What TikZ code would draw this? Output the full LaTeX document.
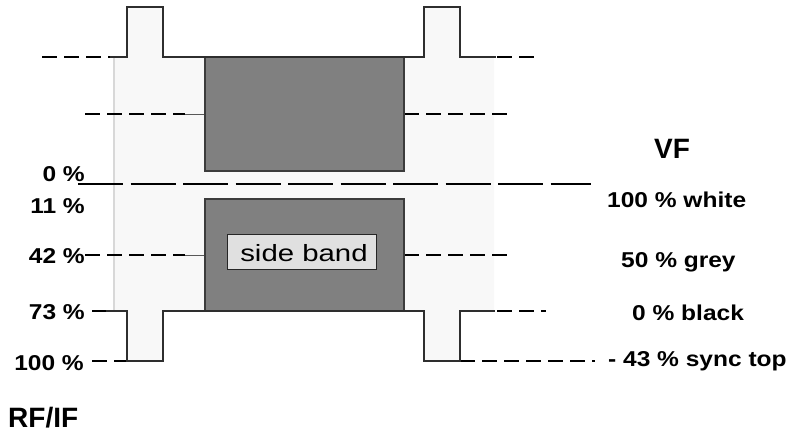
\documentclass[tikz,border=0pt]{standalone}
\usepackage{fontspec}
\setmainfont{Liberation Sans}
\newfontfamily\lblfont{Liberation Sans}[FakeStretch=1.14]
\newfontfamily\bandfont{Liberation Sans}[FakeStretch=1.25]

\definecolor{areagrey}{HTML}{F8F8F8}
\definecolor{edgegrey}{HTML}{D8D8D8}
\definecolor{bandgrey}{HTML}{808080}
\definecolor{bandedge}{HTML}{3C3C3C}
\definecolor{wavecol}{HTML}{2E2E2E}
\definecolor{sbfill}{HTML}{E0E0E0}

\tikzset{
  lvl/.style   = {font=\lblfont\bfseries\fontsize{21.5}{24}\selectfont, inner sep=0pt},
  head/.style  = {font=\bfseries\fontsize{28}{32}\selectfont, inner sep=0pt},
  dline/.style = {black, line width=1.1pt, dash pattern=on 15pt off 7pt},
  lline/.style = {black, line width=1.1pt, dash pattern=on 45pt off 7.5pt},
  wave/.style  = {draw=wavecol, line width=1.3pt, line join=miter},
  band/.style  = {draw=bandedge, fill=bandgrey, line width=1.3pt},
  sbbox/.style = {draw=black!85, fill=sbfill, line width=1pt, inner sep=0pt,
                  minimum width=149pt, minimum height=35pt},
  sbtext/.style= {font=\bandfont\fontsize{23.5}{26}\selectfont, inner sep=0pt},
  stub/.style  = {draw=wavecol!80, line width=1pt}
}

\begin{document}
\begin{tikzpicture}[x=1pt,y=-1pt]
\useasboundingbox (0,0) rectangle (793,432);

% light envelope of the signal, pulses included
\fill[areagrey] (114,57) -- (127,57) -- (127,7) -- (163,7) -- (163,57)
  -- (424,57) -- (424,7) -- (460,7) -- (460,57) -- (494,57)
  -- (494,311) -- (460,311) -- (460,361) -- (424,361) -- (424,311)
  -- (163,311) -- (163,361) -- (127,361) -- (127,311) -- (114,311) -- cycle;
\draw[edgegrey, line width=1.3pt] (114,57) -- (114,311);

% level marks
\coordinate (t0l) at (42,57);   \coordinate (t0r) at (110,57);
\coordinate (t1l) at (497,57);  \coordinate (t1r) at (539,57);
\draw[dline] (t0l) -- (t0r);
\draw[dline] (t1l) -- (t1r);

\coordinate (u0) at (85,114);  \coordinate (u1) at (185,114);
\coordinate (u2) at (205,114); \coordinate (u3) at (404,114); \coordinate (u4) at (508,114);
\draw[dline] (u0) -- (u1);
\draw[stub] (u1) -- (u2);
\draw[dline] (u3) -- (u4);

\coordinate (z0) at (78,184); \coordinate (z1) at (591,184);
\draw[lline] (z0) -- (z1);

\coordinate (m0) at (85,255);  \coordinate (m1) at (185,255);
\coordinate (m2) at (205,255); \coordinate (m3) at (404,255); \coordinate (m4) at (508,255);
\draw[dline] (m0) -- (m1);
\draw[stub] (m1) -- (m2);
\draw[dline] (m3) -- (m4);

\coordinate (b0) at (92,311);  \coordinate (b1) at (106,311);
\coordinate (b2) at (497,311); \coordinate (b3) at (546,311);
\draw[dline] (b0) -- (b1);
\draw[dline] (b2) -- (b3);

\coordinate (s0) at (92,361);  \coordinate (s1) at (127,361);
\coordinate (s2) at (460,361); \coordinate (s3) at (595,361);
\draw[dline] (s0) -- (s1);
\draw[dline] (s2) -- (s3);

% picture content bands
\draw[band] (205,57) rectangle (404,171);
\draw[band] (205,199) rectangle (404,311);

% signal outline
\draw[wave] (110,57) -- (127,57) -- (127,7) -- (163,7) -- (163,57)
  -- (424,57) -- (424,7) -- (460,7) -- (460,57) -- (496,57);
\draw[wave] (106,311) -- (127,311) -- (127,361) -- (163,361) -- (163,311)
  -- (424,311) -- (424,361) -- (460,361) -- (460,311) -- (495,311);

% side band label
\node[sbbox] (sb) at (301.5,251.5) {};
\node[sbtext, anchor=base] (sbt) at (304,261.5) {side band};

% RF/IF scale
\node[lvl, anchor=base east] (p0)   at (85,181)   {0 \%};
\node[lvl, anchor=base east] (p11)  at (85,213.5) {11 \%};
\node[lvl, anchor=base east] (p42)  at (85,263)   {42 \%};
\node[lvl, anchor=base east] (p73)  at (85,319.5) {73 \%};
\node[lvl, anchor=base east] (p100) at (84,370.5) {100 \%};
\node[head, anchor=base west] (rf)  at (8,427.5)  {RF/IF};

% VF scale
\node[head, anchor=base west] (vf)    at (654,158)   {VF};
\node[lvl, anchor=base west] (white)  at (607,207)   {100 \% white};
\node[lvl, anchor=base west] (grey)   at (621,267)   {50 \% grey};
\node[lvl, anchor=base west] (black)  at (632,320)   {0 \% black};
\node[lvl, anchor=base west] (sync)   at (608,366.5) {- 43 \% sync top};
\end{tikzpicture}
\end{document}
